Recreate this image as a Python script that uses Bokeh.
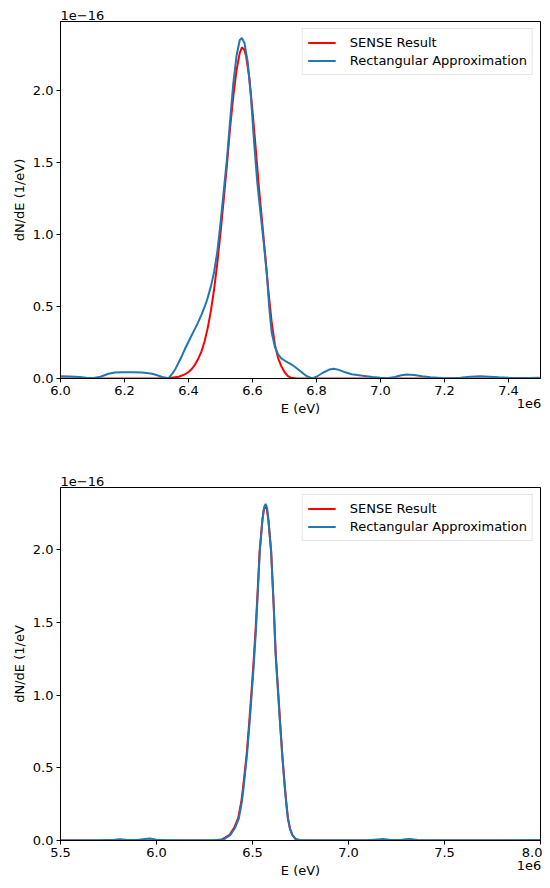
from bokeh.plotting import figure
from bokeh.models import Range1d, FixedTicker, PrintfTickFormatter, Legend, LegendItem, LinearAxis
from bokeh.layouts import column
from bokeh.embed import file_html
from bokeh.resources import INLINE

# ---------------- data (E in units of 1e6 eV, dN/dE in units of 1e-16 1/eV) ----------------
top_red_e = [6.00, 6.30, 6.34, 6.37, 6.39, 6.40, 6.41, 6.42, 6.43, 6.44, 6.45, 6.46, 6.47,
             6.48, 6.49, 6.50, 6.51, 6.52, 6.53, 6.54, 6.55, 6.56, 6.567, 6.574, 6.58,
             6.59, 6.60, 6.61, 6.62, 6.63, 6.64, 6.65, 6.66, 6.67, 6.68, 6.69, 6.70, 6.71,
             6.72, 6.74, 7.50]
top_red_v = [0.000, 0.000, 0.003, 0.012, 0.030, 0.045, 0.066, 0.095, 0.135, 0.185, 0.255, 0.350, 0.470,
             0.620, 0.800, 1.010, 1.240, 1.480, 1.740, 1.960, 2.140, 2.260, 2.300, 2.285, 2.240,
             2.090, 1.860, 1.600, 1.330, 1.090, 0.850, 0.600, 0.390, 0.235, 0.142, 0.086, 0.045, 0.018,
             0.005, 0.000, 0.000]

top_blue_e = [6.000, 6.030, 6.060, 6.085, 6.104, 6.125, 6.150, 6.170, 6.193, 6.225, 6.255,
              6.275, 6.286, 6.300, 6.318, 6.338, 6.35, 6.36, 6.37, 6.38, 6.39, 6.40, 6.41,
              6.42, 6.43, 6.44, 6.45, 6.46, 6.47, 6.48, 6.49, 6.50, 6.51, 6.52, 6.53, 6.54,
              6.55, 6.56, 6.567, 6.575, 6.585, 6.595, 6.605, 6.615, 6.625, 6.635, 6.645,
              6.652, 6.66, 6.67, 6.68, 6.69, 6.70, 6.71, 6.72, 6.73, 6.74, 6.75, 6.76, 6.77,
              6.786, 6.800, 6.820, 6.840, 6.854, 6.870, 6.890, 6.910, 6.927, 6.950, 6.975,
              7.000, 7.020, 7.045, 7.065, 7.083, 7.105, 7.130, 7.156, 7.190, 7.220, 7.250,
              7.280, 7.3125, 7.340, 7.370, 7.400, 7.430, 7.460, 7.500]
top_blue_v = [0.016, 0.014, 0.010, 0.004, 0.003, 0.012, 0.033, 0.042, 0.044, 0.043, 0.042,
              0.037, 0.033, 0.024, 0.010, 0.002, 0.035, 0.070, 0.115, 0.160, 0.210, 0.255, 0.300,
              0.345, 0.390, 0.440, 0.495, 0.560, 0.640, 0.740, 0.880, 1.080, 1.300, 1.520, 1.790, 2.050,
              2.240, 2.350, 2.366, 2.330, 2.200, 1.960, 1.640, 1.360, 1.150, 0.945, 0.720,
              0.500, 0.320, 0.220, 0.168, 0.140, 0.125, 0.112, 0.100, 0.085, 0.068, 0.050, 0.032, 0.016,
              0.000, 0.012, 0.040, 0.062, 0.067, 0.060, 0.043, 0.030, 0.025, 0.018, 0.010,
              0.005, 0.002, 0.010, 0.022, 0.028, 0.025, 0.016, 0.009, 0.004, 0.002, 0.006,
              0.013, 0.016, 0.013, 0.008, 0.005, 0.004, 0.004, 0.005]

bot_red_e = [5.50, 6.30, 6.34, 6.38, 6.405, 6.425, 6.442, 6.452, 6.470, 6.484, 6.495, 6.505,
             6.516, 6.527, 6.537, 6.551, 6.559, 6.567, 6.575, 6.583, 6.597, 6.610, 6.621,
             6.634, 6.643, 6.656, 6.668, 6.677, 6.685, 6.696, 6.708, 6.725, 6.750, 8.00]
bot_red_v = [0.000, 0.000, 0.006, 0.038, 0.090, 0.152, 0.270, 0.379, 0.600, 0.832, 1.030, 1.218,
             1.450, 1.720, 1.990, 2.200, 2.280, 2.305, 2.280, 2.200, 1.990, 1.630, 1.286,
             1.020, 0.832, 0.580, 0.379, 0.250, 0.152, 0.080, 0.039, 0.008, 0.000, 0.000]

bot_blue_e = [5.50, 5.70, 5.78, 5.81, 5.85, 5.90, 5.94, 5.965, 6.00, 6.05, 6.20, 6.30, 6.35,
              6.385, 6.41, 6.429, 6.445, 6.455, 6.472, 6.486, 6.497, 6.507, 6.518, 6.528,
              6.538, 6.552, 6.560, 6.568, 6.576, 6.583, 6.597, 6.610, 6.620, 6.633, 6.642,
              6.655, 6.667, 6.676, 6.684, 6.695, 6.707, 6.725, 6.75, 6.90, 7.10, 7.15, 7.18,
              7.22, 7.27, 7.30, 7.32, 7.36, 7.45, 7.70, 8.00]
bot_blue_v = [0.002, 0.002, 0.006, 0.009, 0.004, 0.003, 0.011, 0.014, 0.006, 0.002, 0.001, 0.001, 0.008,
              0.039, 0.090, 0.152, 0.270, 0.379, 0.600, 0.832, 1.030, 1.218, 1.450, 1.720,
              1.990, 2.210, 2.290, 2.318, 2.290, 2.210, 1.990, 1.630, 1.286, 1.020, 0.832,
              0.580, 0.379, 0.250, 0.152, 0.080, 0.039, 0.010, 0.002, 0.001, 0.002, 0.007, 0.010,
              0.004, 0.003, 0.008, 0.010, 0.004, 0.002, 0.002, 0.003]

top_xticks = [6.0, 6.2, 6.4, 6.6, 6.8, 7.0, 7.2, 7.4]
bot_xticks = [5.5, 6.0, 6.5, 7.0, 7.5, 8.0]
yticks = [0.0, 0.5, 1.0, 1.5, 2.0]

series_names = ["SENSE Result", "Rectangular Approximation"]
x_offset_text = "1e6"
y_offset_text = "1e\u221216"
RED = "#ff0000"
BLUE = "#1f77b4"
FONT = "DejaVu Sans"


def style_axis(ax):
    ax.axis_line_color = "black"
    ax.major_tick_line_color = "black"
    ax.minor_tick_line_color = None
    ax.major_tick_in = 0
    ax.major_tick_out = 4
    ax.major_label_text_font = FONT
    ax.major_label_text_font_size = "13px"
    ax.major_label_text_color = "black"
    ax.axis_label_text_font = FONT
    ax.axis_label_text_font_size = "13px"
    ax.axis_label_text_font_style = "normal"
    ax.axis_label_text_color = "black"
    ax.major_label_standoff = 3
    ax.axis_label_standoff = 3


def make_plot(xr, yr, xticks, red_e, red_v, blue_e, blue_v, ylabel, height,
              top_border, bottom_border):
    p = figure(width=542, height=height, x_range=Range1d(*xr), y_range=Range1d(*yr),
               output_backend="svg", toolbar_location=None,
               min_border_left=60, min_border_right=2,
               min_border_top=top_border, min_border_bottom=bottom_border)
    p.grid.visible = False
    p.outline_line_color = "black"
    p.outline_line_width = 1
    p.background_fill_color = "white"
    p.border_fill_color = "white"

    # offset text of the y axis ("1e-16") as a left-aligned title
    p.title.text = y_offset_text
    p.title.align = "left"
    p.title.text_font = FONT
    p.title.text_font_size = "13px"
    p.title.text_font_style = "normal"
    p.title.text_color = "black"
    p.title.standoff = 4

    r1 = p.line(red_e, red_v, line_color=RED, line_width=2)
    r2 = p.line(blue_e, blue_v, line_color=BLUE, line_width=2)

    style_axis(p.xaxis[0])
    style_axis(p.yaxis[0])
    p.xaxis[0].formatter = PrintfTickFormatter(format="%.1f")
    p.yaxis[0].formatter = PrintfTickFormatter(format="%.1f")
    p.xaxis[0].ticker = FixedTicker(ticks=xticks)
    p.yaxis[0].ticker = FixedTicker(ticks=yticks)
    p.xaxis[0].axis_label = "E (eV)"
    p.yaxis[0].axis_label = ylabel

    # offset text of the x axis ("1e6") at the right end, under the tick labels
    span = xr[1] - xr[0]
    pos = xr[1] - span * 9.0 / 480.0
    off_ax = LinearAxis(ticker=FixedTicker(ticks=[pos]), major_label_overrides={pos: x_offset_text})
    style_axis(off_ax)
    off_ax.axis_line_color = None
    off_ax.major_tick_line_color = None
    off_ax.major_tick_out = 0
    off_ax.major_label_standoff = -20
    p.add_layout(off_ax, "below")

    legend = Legend(items=[LegendItem(label=series_names[0], renderers=[r1]),
                           LegendItem(label=series_names[1], renderers=[r2])],
                    location="top_right")
    legend.margin = 7
    legend.padding = 5
    legend.spacing = 1
    legend.label_height = 17
    legend.glyph_height = 17
    legend.glyph_width = 28
    legend.label_standoff = 14
    legend.label_text_font = FONT
    legend.label_text_font_size = "13px"
    legend.label_text_color = "black"
    legend.border_line_color = "#cccccc"
    legend.border_line_width = 1
    legend.background_fill_alpha = 0.8
    p.add_layout(legend, "center")
    return p


p1 = make_plot((6.0, 7.5), (0.0, 2.48), top_xticks, top_red_e, top_red_v, top_blue_e, top_blue_v,
               "dN/dE (1/eV)", 450, 21, 72)
p2 = make_plot((5.5, 8.0), (0.0, 2.43), bot_xticks, bot_red_e, bot_red_v, bot_blue_e, bot_blue_v,
               "dN/dE (1/eV", 430, 37, 39)

layout = column(p1, p2)
open("out.html", "w").write(file_html(layout, INLINE))
